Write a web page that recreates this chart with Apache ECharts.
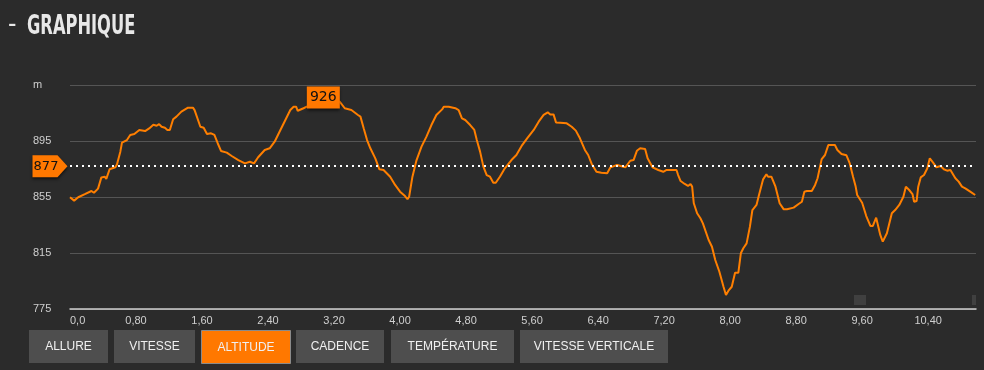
<!DOCTYPE html>
<html>
<head>
<meta charset="utf-8">
<script src="https://cdn.jsdelivr.net/npm/echarts@6/dist/echarts.min.js"></script>
<style>
html,body{margin:0;padding:0;background:#2b2b2b;}
#chart{width:984px;height:370px;}
</style>
</head>
<body>
<div id="chart"></div>
<script>
// distance (km)
var dist = [0,0.05,0.10,0.18,0.26,0.29,0.34,0.38,0.42,0.44,0.48,0.55,0.57,0.61,0.63,0.69,0.73,0.78,0.84,0.91,0.96,1.01,1.05,1.08,1.11,1.15,1.18,1.21,1.25,1.29,1.35,1.43,1.49,1.51,1.58,1.62,1.66,1.71,1.75,1.79,1.83,1.90,1.96,2.04,2.12,2.18,2.23,2.28,2.36,2.42,2.48,2.55,2.61,2.67,2.71,2.74,2.76,2.83,2.87,2.95,3.01,3.07,3.13,3.20,3.27,3.33,3.41,3.49,3.52,3.56,3.60,3.64,3.70,3.75,3.80,3.88,3.94,4.00,4.06,4.09,4.11,4.15,4.20,4.26,4.32,4.38,4.44,4.51,4.53,4.59,4.67,4.71,4.75,4.79,4.85,4.90,4.93,4.97,5.01,5.05,5.09,5.13,5.16,5.21,5.27,5.35,5.41,5.48,5.54,5.62,5.68,5.74,5.79,5.82,5.86,5.89,5.94,6.02,6.08,6.13,6.18,6.24,6.28,6.32,6.38,6.44,6.51,6.55,6.63,6.65,6.73,6.79,6.83,6.87,6.91,6.97,7.00,7.03,7.06,7.13,7.19,7.23,7.35,7.37,7.40,7.45,7.49,7.52,7.54,7.56,7.60,7.64,7.67,7.74,7.78,7.82,7.87,7.92,7.95,7.98,8.02,8.06,8.10,8.13,8.16,8.20,8.24,8.27,8.32,8.35,8.40,8.44,8.46,8.50,8.55,8.60,8.65,8.69,8.77,8.83,8.87,8.90,8.93,8.99,9.03,9.06,9.09,9.11,9.15,9.19,9.27,9.30,9.35,9.41,9.45,9.49,9.52,9.54,9.56,9.60,9.65,9.70,9.73,9.77,9.79,9.82,9.85,9.90,9.96,10.00,10.05,10.10,10.13,10.17,10.21,10.23,10.26,10.28,10.31,10.35,10.39,10.42,10.46,10.50,10.55,10.59,10.63,10.67,10.73,10.77,10.81,10.85,10.91,10.97];
// altitude (m)
var alt = [854.8,852.4,854.8,857,859.3,858,861,869,869.5,867.9,874.8,876.2,878.4,887.4,893.8,895.7,899.3,900,902.9,902.1,904,906.6,905.9,907.1,905.2,904.5,902.9,902.9,910.5,912.4,916,918.8,918.8,917.1,905.2,904.5,900,900.5,899.3,893.4,887.9,886.7,884.3,881.4,879,880.2,879,883.4,888.6,889.8,894.5,902.9,910,917.1,919.5,919.5,916.6,918.4,919.5,922,924,926,925,924,923,918.4,917.1,913.6,912.4,904,895.7,889.8,882.6,874.8,874.3,869.5,863.6,858.8,855.7,853.4,855.2,869.5,881.4,891,898.1,906.4,913.6,917.6,919.5,919.5,918.4,917.1,911.1,910,906.4,902.9,895.7,887.4,876.7,870.7,869.5,865.2,865.2,869.5,875.5,881.4,885,892.1,896.9,902.9,908.8,913.6,915.5,914,914,908.3,908.1,907.6,905.2,902.4,896.9,888.6,885,879,873,872.4,871.9,876.2,877.9,876.7,876.2,880.9,881.4,888,889.8,889.3,882.6,879.5,876.2,874.3,873,874.3,874.3,870.7,866.4,864.3,862.9,864.3,862.4,850.5,843.4,839.8,836.2,824.3,819.5,810,801.6,790.9,785,788.1,790.9,800.9,800.9,814.8,818.4,821.9,833.8,845.7,849.3,856.4,867.6,871.2,869.5,869.5,862.4,850.5,846.2,846.2,847.4,850,851.6,858.8,859.3,859.3,863.6,868.4,876.7,882.1,885,892.1,892.1,888.6,885.7,884.8,879,869.5,862.9,856.4,857.6,850.9,841.4,834.3,834.3,840.2,839.1,827.9,823.1,829.1,843.4,845.7,849.3,855.2,862.4,860,857.1,851.6,852.1,862.4,869,870.7,875.5,882.6,879.5,876.2,877.1,874.8,873.8,874.3,868.4,866,862.4,861.2,858.8,856.4];
var avgAltitude = 877;
var yTicks = [775, 815, 855, 895, 935];
var yUnit = 'm';
var buttons = ['ALLURE', 'VITESSE', 'ALTITUDE', 'CADENCE', 'TEMPÉRATURE', 'VITESSE VERTICALE'];
var activeButton = 'ALTITUDE';
var titleText = 'GRAPHIQUE';

var seriesData = dist.map(function (d, i) { return [d, alt[i]]; });

// button layout
var btnX = [29, 114, 201, 296, 391, 520];
var btnW = [79, 81, 89, 88, 123, 148];
var btnGraphics = buttons.map(function (b, i) {
  var active = b === activeButton;
  return {
    type: 'group', left: btnX[i], top: 330,
    children: [
      { type: 'rect', shape: { x: 0, y: 0, width: btnW[i], height: 33 },
        style: { fill: active ? '#ff7800' : '#4e4e4e', stroke: active ? '#8a8a8a' : null, lineWidth: active ? 1 : 0 } },
      { type: 'text', x: btnW[i] / 2, y: 17,
        style: { text: b, fill: '#f0f0f0', font: '12px "Liberation Sans", Arial, sans-serif',
          align: 'center', verticalAlign: 'middle', textShadowColor: 'rgba(0,0,0,0.8)', textShadowOffsetX: 1, textShadowOffsetY: 1, textShadowBlur: 0 } }
    ]
  };
});

var chart = echarts.init(document.getElementById('chart'), null, { renderer: 'canvas' });
chart.setOption({
  backgroundColor: '#2b2b2b',
  animation: false,
  grid: { left: 70, right: 8, top: 85, bottom: 61 },
  xAxis: {
    type: 'value', min: 0, max: 10.98, interval: 0.8,
    axisLine: { show: true, lineStyle: { color: '#d0d0d0', width: 1.5 } },
    axisTick: { show: false },
    splitLine: { show: false },
    axisLabel: {
      color: '#cfcfcf', fontSize: 11, fontFamily: '"Liberation Sans", Arial, sans-serif', margin: 6,
      showMaxLabel: false, alignMinLabel: 'left',
      formatter: function (v) { return v === 0 ? '0,0' : v.toFixed(2).replace('.', ','); }
    }
  },
  yAxis: {
    type: 'value', min: yTicks[0], max: yTicks[yTicks.length - 1], interval: 40,
    axisLine: { show: false }, axisTick: { show: false },
    splitLine: { show: true, lineStyle: { color: '#555555', width: 1 } },
    axisLabel: {
      color: '#cfcfcf', fontSize: 11, fontFamily: '"Liberation Sans", Arial, sans-serif', align: 'left', margin: 37,
      formatter: function (v) { return v === yTicks[yTicks.length - 1] ? yUnit : String(v); }
    }
  },
  series: [{
    type: 'line', data: seriesData, showSymbol: false, symbol: 'none',
    lineStyle: { color: '#ff7f00', width: 2 }, itemStyle: { color: '#ff7f00' },
    markLine: {
      silent: true, symbol: 'none', label: { show: false },
      lineStyle: { color: '#ffffff', width: 2, type: [2, 4] },
      data: [{ yAxis: avgAltitude }]
    },
    markPoint: {
      silent: true,
      data: [
        { type: 'max', symbol: 'rect', symbolSize: [33, 22],
          itemStyle: { color: '#ff7800', shadowBlur: 3, shadowColor: 'rgba(0,0,0,0.6)', shadowOffsetY: 2 },
          label: { show: true, position: 'inside', color: '#111', fontSize: 14, fontFamily: '"DejaVu Sans", sans-serif', formatter: '{c}' } },
        { coord: [0, avgAltitude], value: avgAltitude,
          symbol: 'path://M0,0 L25,0 L35,11 L25,22 L0,22 Z', symbolSize: [35, 22], symbolOffset: [-20, 0],
          itemStyle: { color: '#ff7800', shadowBlur: 3, shadowColor: 'rgba(0,0,0,0.6)', shadowOffsetY: 2 },
          label: { show: true, position: 'inside', offset: [-4, 0], color: '#111', fontSize: 13, fontFamily: '"DejaVu Sans", sans-serif', formatter: '{c}' } }
      ]
    }
  }],
  graphic: [
    { type: 'text', x: 8, y: 12, style: { text: '-', fill: '#e8e8e8', font: '26px "Liberation Sans Narrow", "DejaVu Sans Condensed", sans-serif' } },
    { type: 'text', x: 27, y: 13, scaleX: 0.67, style: { text: titleText, fill: '#e8e8e8', font: 'bold 27px "Liberation Sans Narrow", "DejaVu Sans Condensed", sans-serif' } },
    { type: 'rect', left: 854, top: 295, shape: { width: 12, height: 10 }, style: { fill: '#404040' } },
    { type: 'rect', left: 972, top: 295, shape: { width: 4, height: 10 }, style: { fill: '#404040' } }
  ].concat(btnGraphics)
});
</script>
</body>
</html>
